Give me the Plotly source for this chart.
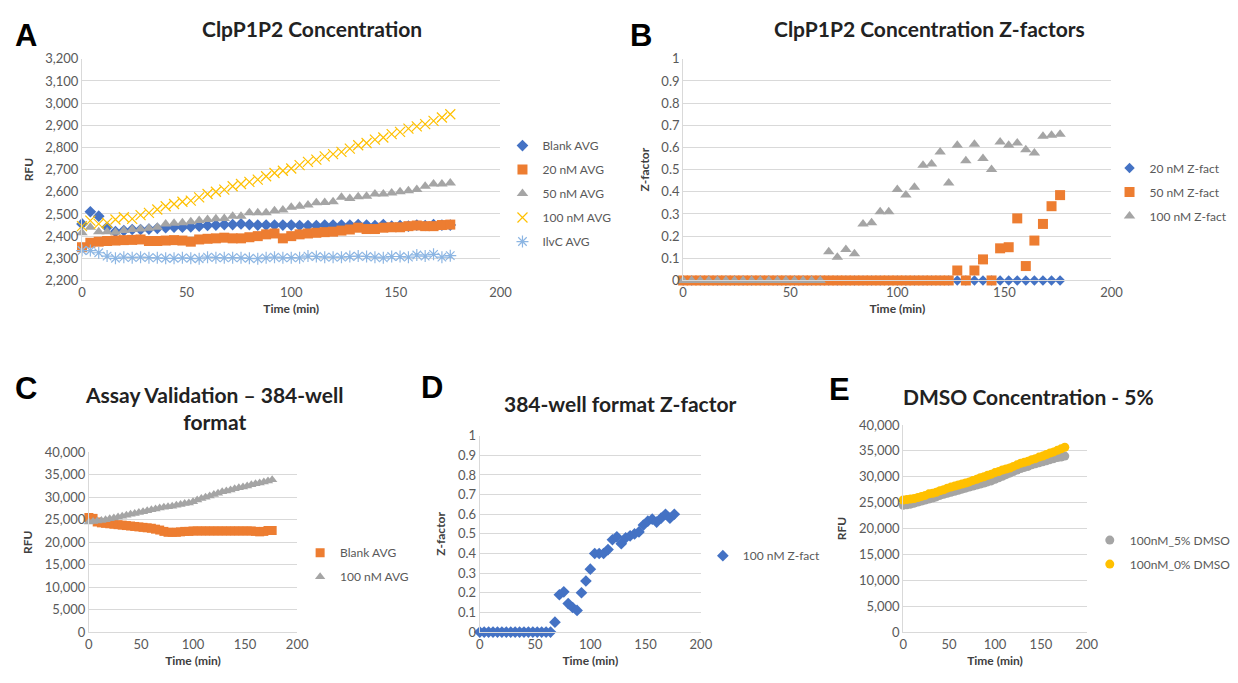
import plotly.graph_objects as go

# ---------------- DATA ----------------
time_min = [0, 4, 8, 12, 16, 20, 24, 28, 32, 36, 40, 44, 48, 52, 56, 60, 64, 68, 72, 76, 80, 84, 88,
            92, 96, 100, 104, 108, 112, 116, 120, 124, 128, 132, 136, 140, 144, 148, 152, 156, 160,
            164, 168, 172, 176]

# Panel A - ClpP1P2 Concentration (RFU)
a_blank = [2455, 2510, 2490, 2440, 2420, 2425, 2430, 2430, 2432, 2435, 2438, 2440, 2440, 2442, 2445,
           2448, 2450, 2452, 2452, 2455, 2452, 2450, 2450, 2450, 2450, 2450, 2448, 2448, 2448, 2450,
           2450, 2450, 2450, 2452, 2450, 2448, 2452, 2445, 2448, 2445, 2450, 2448, 2452, 2450, 2450]
a_20nm = [2350, 2370, 2375, 2378, 2380, 2382, 2383, 2385, 2378, 2378, 2380, 2382, 2380, 2375, 2385,
          2388, 2390, 2393, 2390, 2390, 2395, 2400, 2408, 2412, 2390, 2400, 2408, 2412, 2415, 2418,
          2420, 2425, 2430, 2438, 2432, 2432, 2438, 2440, 2440, 2445, 2448, 2445, 2445, 2450, 2452]
a_50nm = [2415, 2440, 2420, 2420, 2418, 2425, 2430, 2432, 2435, 2440, 2455, 2458, 2460, 2465, 2470,
          2475, 2478, 2480, 2490, 2490, 2505, 2505, 2505, 2515, 2518, 2530, 2535, 2540, 2550, 2552,
          2555, 2575, 2570, 2578, 2580, 2590, 2590, 2595, 2600, 2605, 2610, 2625, 2635, 2635, 2640]
a_100nm = [2445, 2470, 2455, 2460, 2475, 2485, 2478, 2495, 2505, 2520, 2535, 2545, 2555, 2560, 2575,
           2590, 2600, 2610, 2625, 2635, 2645, 2655, 2670, 2685, 2695, 2705, 2720, 2735, 2745, 2760,
           2770, 2780, 2795, 2810, 2820, 2835, 2845, 2860, 2870, 2885, 2895, 2905, 2920, 2935, 2950]
a_ilvc = [2335, 2335, 2325, 2310, 2300, 2305, 2303, 2305, 2303, 2302, 2300, 2300, 2302, 2300, 2298,
          2305, 2303, 2302, 2303, 2302, 2300, 2298, 2302, 2305, 2302, 2303, 2302, 2310, 2308, 2305,
          2305, 2305, 2308, 2310, 2308, 2305, 2302, 2308, 2308, 2305, 2315, 2310, 2318, 2305, 2312]

# Panel B - Z-factors
b_20nm = [0] * 45
b_50nm = [0, 0, 0, 0, 0, 0, 0, 0, 0, 0, 0, 0, 0, 0, 0, 0, 0, 0, 0, 0, 0, 0, 0, 0, 0, 0, 0, 0, 0, 0,
          0, 0, 0.045, 0, 0.045, 0.095, 0, 0.145, 0.15, 0.28, 0.065, 0.18, 0.255, 0.335, 0.385]
b_100nm = [0, 0, 0, 0, 0, 0, 0, 0, 0, 0, 0, 0, 0, 0, 0, 0, 0, 0.13, 0.105, 0.14, 0.12, 0.255, 0.26,
           0.31, 0.31, 0.41, 0.385, 0.42, 0.52, 0.525, 0.58, 0.44, 0.61, 0.54, 0.615, 0.55, 0.5,
           0.625, 0.61, 0.62, 0.59, 0.575, 0.65, 0.655, 0.66]

# Panel C - Assay validation 384-well (RFU)
c_blank = [25500, 25300, 24500, 24300, 24200, 24100, 24000, 23900, 23800, 23700, 23600, 23500, 23400,
           23300, 23200, 23100, 22900, 22700, 22400, 22200, 22200, 22200, 22300, 22400, 22400, 22500,
           22500, 22500, 22500, 22500, 22500, 22500, 22500, 22500, 22500, 22500, 22500, 22500, 22500,
           22500, 22400, 22300, 22400, 22600, 22600]
c_100nm = [24500, 24600, 24700, 24800, 25000, 25200, 25400, 25600, 25800, 26000, 26200, 26400, 26600,
           26800, 27000, 27200, 27400, 27600, 27800, 27900, 28000, 28200, 28400, 28600, 28700, 29000,
           29400, 29700, 30000, 30300, 30600, 30900, 31200, 31400, 31600, 31900, 32100, 32300, 32500,
           32800, 33000, 33200, 33400, 33600, 33900]

# Panel D - 384-well Z-factor
d_100nm = [0, 0, 0, 0, 0, 0, 0, 0, 0, 0, 0, 0, 0, 0, 0, 0, 0, 0.05, 0.19, 0.205, 0.145, 0.125, 0.11,
           0.2, 0.26, 0.32, 0.4, 0.4, 0.4, 0.42, 0.47, 0.485, 0.45, 0.48, 0.49, 0.5, 0.51, 0.545,
           0.565, 0.575, 0.56, 0.58, 0.6, 0.58, 0.6]

# Panel E - DMSO concentration (RFU)
e_5pct = [24500, 24600, 24700, 24900, 25100, 25300, 25500, 25700, 25900, 26100, 26400, 26600, 26800,
          27000, 27200, 27400, 27600, 27800, 28000, 28200, 28400, 28600, 28800, 29000, 29200, 29500,
          29800, 30100, 30400, 30700, 31000, 31300, 31600, 31800, 32000, 32300, 32500, 32700, 32900,
          33100, 33300, 33500, 33700, 33800, 34000]
e_0pct = [25500, 25600, 25700, 25800, 26000, 26200, 26400, 26700, 26800, 27000, 27300, 27500, 27800,
          28000, 28200, 28400, 28600, 28800, 29000, 29300, 29500, 29800, 30000, 30300, 30500, 30800,
          31000, 31300, 31500, 31700, 32000, 32300, 32600, 32800, 33000, 33300, 33500, 33800, 34000,
          34300, 34600, 34800, 35100, 35400, 35700]

# ---------------- STYLE ----------------
W, H = 1238, 683
BLUE, ORANGE, GRAY, YELLOW, LIGHTBLUE = "#4472C4", "#ED7D31", "#A5A5A5", "#FFC000", "#8DB6E3"
GRID = "#D9D9D9"
TXT = "#595959"
FONT = "Lato"


def px_x(p):
    return p / W


def px_y(p):
    return (H - p) / H


fig = go.Figure()


def add(x, y, name, xa, ya, legend, symbol, color, size, line_w=0, line_color=None):
    fig.add_trace(go.Scatter(
        x=x, y=y, name=name, mode="markers", xaxis=xa, yaxis=ya, legend=legend,
        legendgroup=name + legend, cliponaxis=False, hoverinfo="skip",
        marker=dict(symbol=symbol, color=color, size=size,
                    line=dict(width=line_w, color=line_color or color)),
    ))


# A
add(time_min, a_blank, "Blank AVG", "x", "y", "legend", "diamond", BLUE, 9)
add(time_min, a_20nm, "20 nM AVG", "x", "y", "legend", "square", ORANGE, 10)
add(time_min, a_50nm, "50 nM AVG", "x", "y", "legend", "triangle-up", GRAY, 10)
add(time_min, a_100nm, "100 nM AVG", "x", "y", "legend", "x-thin-open", YELLOW, 10, 1.2, YELLOW)
add(time_min, a_ilvc, "IlvC AVG", "x", "y", "legend", "asterisk-open", LIGHTBLUE, 10, 1.2, LIGHTBLUE)
# B
add(time_min, b_20nm, "20 nM Z-fact", "x2", "y2", "legend2", "diamond", BLUE, 8)
add(time_min, b_50nm, "50 nM Z-fact", "x2", "y2", "legend2", "square", ORANGE, 10)
add(time_min, b_100nm, "100 nM Z-fact", "x2", "y2", "legend2", "triangle-up", GRAY, 10)
# C
add(time_min, c_blank, "Blank AVG", "x3", "y3", "legend3", "square", ORANGE, 9)
add(time_min, c_100nm, "100 nM AVG", "x3", "y3", "legend3", "triangle-up", GRAY, 9)
# D
add(time_min, d_100nm, "100 nM Z-fact", "x4", "y4", "legend4", "diamond", BLUE, 9)
# E
add(time_min, e_5pct, "100nM_5% DMSO", "x5", "y5", "legend5", "circle", GRAY, 9)
add(time_min, e_0pct, "100nM_0% DMSO", "x5", "y5", "legend5", "circle", YELLOW, 9)

tickfont = dict(family=FONT, size=13, color=TXT)
titlefont = dict(family=FONT, size=12, color="#404040", weight="bold")


def xaxis(left, right, anchor):
    return dict(domain=[px_x(left), px_x(right)], range=[0, 200], dtick=50, showgrid=False,
                showline=True, linecolor=GRID, linewidth=1, zeroline=False, ticks="",
                tickfont=tickfont, anchor=anchor, fixedrange=True,
                title=dict(text="Time (min)", font=titlefont, standoff=5))


def yaxis(top, bottom, rng, dtick, anchor, title, fmt):
    return dict(domain=[px_y(bottom), px_y(top)], range=rng, dtick=dtick, showgrid=True,
                gridcolor=GRID, gridwidth=1, showline=True, linecolor=GRID, zeroline=False,
                ticks="", tickfont=tickfont, anchor=anchor, tickformat=fmt, fixedrange=True,
                title=dict(text=title, font=titlefont, standoff=9))


def legend(xp, yp):
    return dict(x=px_x(xp), y=px_y(yp), xanchor="left", yanchor="top", bgcolor="rgba(0,0,0,0)",
                font=dict(family=FONT, size=12, color=TXT), tracegroupgap=5, traceorder="grouped",
                itemwidth=30)


fig.update_layout(
    width=W, height=H, margin=dict(l=0, r=0, t=0, b=0),
    paper_bgcolor="white", plot_bgcolor="white", showlegend=True,
    xaxis=xaxis(79, 503, "y"),
    yaxis=yaxis(52, 279, [2200, 3200], 100, "x", "RFU", ","),
    xaxis2=xaxis(688, 1122, "y2"),
    yaxis2=yaxis(52, 279, [0, 1], 0.1, "x2", "Z-factor", ""),
    xaxis3=xaxis(86, 297, "y3"),
    yaxis3=yaxis(455, 639, [0, 40000], 5000, "x3", "RFU", ","),
    xaxis4=xaxis(482, 706, "y4"),
    yaxis4=yaxis(438, 639, [0, 1], 0.1, "x4", "Z-factor", ""),
    xaxis5=xaxis(911, 1097, "y5"),
    yaxis5=yaxis(427, 639, [0, 40000], 5000, "x5", "RFU", ","),
    legend=legend(505, 126),
    legend2=legend(1120, 149),
    legend3=legend(300, 543),
    legend4=legend(708, 546),
    legend5=legend(1100, 530),
)

titles = [
    ("ClpP1P2 Concentration", 312, 21),
    ("ClpP1P2 Concentration Z-factors", 938, 21),
    ("Assay Validation – 384-well<br>format", 213, 410),
    ("384-well format Z-factor", 625, 405),
    ("DMSO Concentration - 5%", 1038, 398),
]
for text, cx, cy in titles:
    fig.add_annotation(text=text, x=px_x(cx), y=px_y(cy), xref="paper", yref="paper",
                       showarrow=False, xanchor="center", yanchor="middle",
                       font=dict(family=FONT, size=21, color="#222222", weight="bold"))

letters = [("A", 22, 28), ("B", 645, 28), ("C", 22, 390), ("D", 434, 389), ("E", 846, 391)]
for text, cx, cy in letters:
    fig.add_annotation(text=text, x=px_x(cx), y=px_y(cy), xref="paper", yref="paper",
                       showarrow=False, xanchor="center", yanchor="middle",
                       font=dict(family="Liberation Sans", size=31, color="black", weight="bold"))

# Remove the default page margin so the 1238x683 figure fills the window exactly,
# and hide the hover toolbar.
fig.write_html("out.html",
               config={"displayModeBar": False},
               post_script="document.body.style.margin='0';document.body.style.overflow='hidden';")
